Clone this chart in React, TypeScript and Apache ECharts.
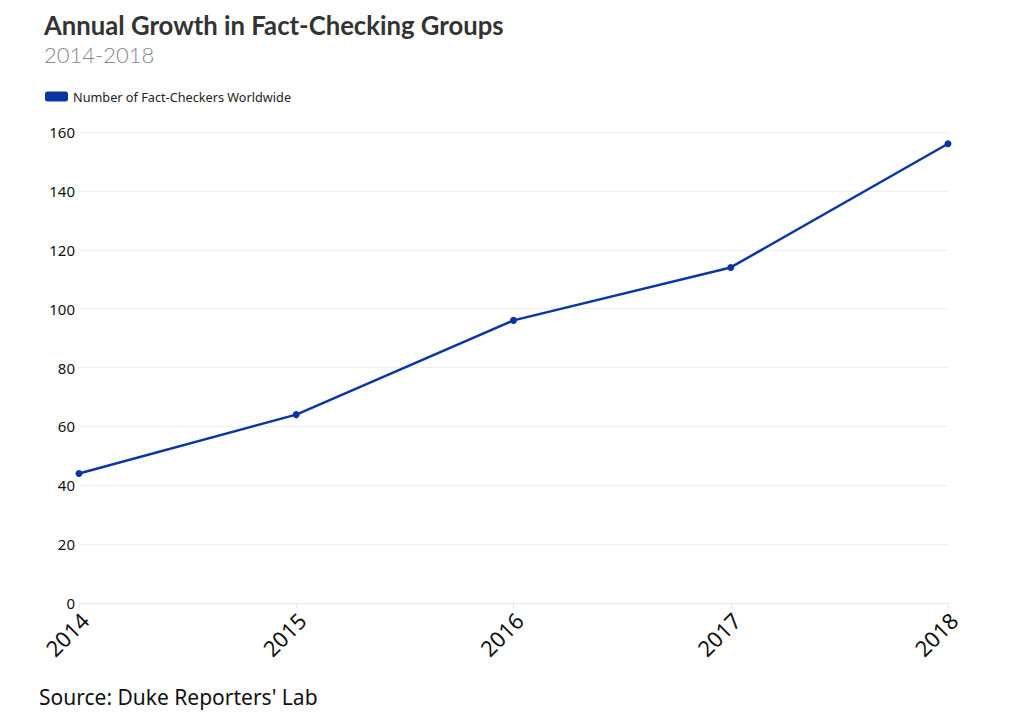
import React, { useEffect, useRef } from "react";
import * as echarts from "echarts";

const years = ["2014", "2015", "2016", "2017", "2018"];
const factCheckers = [44, 64, 96, 114, 156];
const seriesName = "Number of Fact-Checkers Worldwide";

export default function App() {
  const ref = useRef<HTMLDivElement>(null);
  useEffect(() => {
    if (!ref.current) return;
    const chart = echarts.init(ref.current, null, { renderer: "svg" });
    chart.setOption({
      animation: false,
      backgroundColor: "#ffffff",
      graphic: [
        {
          type: "text",
          left: 44,
          top: 12,
          style: {
            text: "Annual Growth in Fact-Checking Groups",
            font: "bold 25.7px Lato",
            fill: "#333333",
          },
        },
        {
          type: "text",
          left: 44,
          top: 43,
          style: {
            text: "2014-2018",
            font: "300 22px Lato",
            fill: "#888888",
          },
        },
        {
          type: "text",
          left: 39,
          top: 686,
          style: {
            text: "Source: Duke Reporters' Lab",
            font: "21px 'Noto Sans'",
            fill: "#111111",
          },
        },
      ],
      legend: {
        left: 40,
        top: 85,
        icon: "roundRect",
        itemWidth: 23,
        itemHeight: 10,
        itemGap: 10,
        itemTextGap: 4,
        textStyle: { fontSize: 12.7, color: "#222", fontFamily: "'Noto Sans'" },
        data: [seriesName],
      },
      grid: { left: 79, right: 68, top: 132, bottom: 122, containLabel: false },
      xAxis: {
        type: "category",
        data: years,
        boundaryGap: false,
        axisLine: { show: true, lineStyle: { color: "#e6e6e6" } },
        axisTick: { show: true, alignWithLabel: true, length: 5, lineStyle: { color: "#e6e6e6" } },
        axisLabel: {
          rotate: 45,
          fontSize: 22,
          color: "#111",
          fontFamily: "'Noto Sans'",
          margin: 19,
          padding: [0, -8, 0, 0],
        },
        splitLine: { show: false },
      },
      yAxis: {
        type: "value",
        min: 0,
        max: 160,
        interval: 20,
        axisLine: { show: false },
        axisTick: { show: false },
        axisLabel: { fontSize: 15, color: "#111", fontFamily: "'Noto Sans'", margin: 4 },
        splitLine: { lineStyle: { color: "#eeeeee" } },
      },
      series: [
        {
          name: seriesName,
          type: "line",
          data: factCheckers,
          color: "#0b36a2",
          lineStyle: { width: 2.5, color: "#0b36a2" },
          symbol: "circle",
          symbolSize: 7,
          itemStyle: { color: "#0b36a2" },
        },
      ],
    });
    return () => chart.dispose();
  }, []);
  return (
    <div
      ref={ref}
      style={{ position: "fixed", left: 0, top: 0, width: 1016, height: 725 }}
    />
  );
}
